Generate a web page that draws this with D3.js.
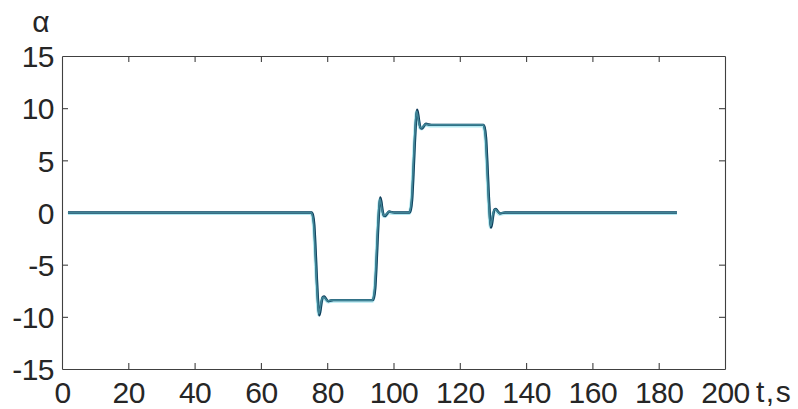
<!DOCTYPE html>
<html>
<head>
<meta charset="utf-8">
<script src="https://cdn.jsdelivr.net/npm/d3@7"></script>
<style>
  html, body { margin: 0; padding: 0; background: #fff; }
  svg { display: block; }
  .tick text { font-family: "Liberation Sans", Arial, sans-serif; font-size: 30px; fill: #262626; letter-spacing: -0.5px; }
  .ax path, .ax line { stroke: #404040; stroke-width: 1.1; }
</style>
</head>
<body>
<svg id="chart" width="798" height="409"></svg>
<script>
// Angle of attack response, two simulated traces
const tealT = [1.8, 75.2, 75.6, 76.0, 76.4, 76.8, 77.2, 77.5, 77.8, 78.2, 78.6, 79.0, 79.5, 80.2, 81.0, 81.8,
  93.6, 94.0, 94.4, 94.8, 95.2, 95.6, 95.9, 96.2, 96.6, 97.0, 97.4, 97.9, 98.6, 99.4, 100.2,
  104.7, 105.1, 105.5, 105.9, 106.3, 106.7, 107.0, 107.3, 107.7, 108.1, 108.5, 109.0, 109.7, 110.5, 111.3,
  127.0, 127.4, 127.8, 128.2, 128.6, 129.0, 129.3, 129.6, 130.0, 130.4, 130.8, 131.3, 132.0, 132.8, 133.6, 185.5];
const tealV = [0, 0, -0.34, -1.51, -4.03, -6.72, -8.90, -9.72, -9.32, -8.57, -8.15, -8.11, -8.27, -8.48, -8.43, -8.4,
  -8.4, -8.06, -6.89, -4.37, -1.68, 0.50, 1.32, 0.92, 0.17, -0.25, -0.29, -0.13, 0.08, 0.03, 0,
  0, 0.34, 1.51, 4.03, 6.72, 8.90, 9.72, 9.32, 8.57, 8.15, 8.11, 8.27, 8.48, 8.43, 8.4,
  8.4, 8.06, 6.89, 4.37, 1.68, -0.50, -1.32, -0.92, -0.17, 0.25, 0.29, 0.13, -0.08, -0.03, 0, 0];

const navyT = [1.8, 75.3, 75.7, 76.1, 76.5, 76.9, 77.3, 77.6, 77.9, 78.3, 78.7, 79.1, 79.6, 80.3, 81.1, 81.9,
  93.7, 94.1, 94.5, 94.9, 95.3, 95.7, 96.0, 96.3, 96.7, 97.1, 97.5, 98.0, 98.7, 99.5, 100.3,
  104.8, 105.2, 105.6, 106.0, 106.4, 106.8, 107.1, 107.4, 107.8, 108.2, 108.6, 109.1, 109.8, 110.6, 111.4,
  127.1, 127.5, 127.9, 128.3, 128.7, 129.1, 129.4, 129.7, 130.1, 130.5, 130.9, 131.4, 132.1, 132.9, 133.7, 185.5];
const navyV = [0, 0, -0.25, -1.20, -3.60, -6.50, -8.80, -9.85, -9.50, -8.60, -8.10, -8.05, -8.25, -8.50, -8.43, -8.4,
  -8.4, -8.15, -7.20, -4.80, -1.90, 0.40, 1.45, 1.10, 0.20, -0.30, -0.35, -0.15, 0.10, 0.03, 0,
  0, 0.25, 1.20, 3.60, 6.50, 8.80, 9.85, 9.50, 8.60, 8.10, 8.05, 8.25, 8.50, 8.43, 8.4,
  8.4, 8.15, 7.20, 4.80, 1.90, -0.40, -1.45, -1.10, -0.20, 0.30, 0.35, 0.15, -0.10, -0.03, 0, 0];

const xTicks = [0, 20, 40, 60, 80, 100, 120, 140, 160, 180, 200];
const yTicks = [-15, -10, -5, 0, 5, 10, 15];
const xTitle = "t,s";
const yTitle = "α";

const svg = d3.select("#chart");
const m = { left: 62, right: 73, top: 56, bottom: 40 };
const W = 798, H = 409;

const x = d3.scaleLinear().domain([0, 200]).range([m.left, W - m.right]);
const y = d3.scaleLinear().domain([-15, 15]).range([H - m.bottom, m.top]);

// data lines
const line = d3.line().x(d => x(d[0])).y(d => y(d[1])).curve(d3.curveMonotoneX);
const navy = navyT.map((t, i) => [t, navyV[i]]);
const teal = tealT.map((t, i) => [t, tealV[i]]);

svg.append("path").datum(teal).attr("d", line)
  .attr("fill", "none").attr("stroke", "#9fe3ee").attr("stroke-width", 3.6)
  .attr("transform", "translate(0,0.8)").attr("opacity", 0.8);
svg.append("path").datum(navy).attr("d", line)
  .attr("fill", "none").attr("stroke", "#0f3a58").attr("stroke-width", 2.4);
svg.append("path").datum(teal).attr("d", line)
  .attr("fill", "none").attr("stroke", "#3f8496").attr("stroke-width", 1.7);

// axes (ticks point inward on all four sides)
const fmt = d => String(d);
svg.append("g").attr("class", "ax").attr("transform", `translate(0,${y(-15)})`)
  .call(d3.axisBottom(x).tickValues(xTicks).tickFormat(fmt).tickSize(-6).tickSizeOuter(0).tickPadding(13));
svg.append("g").attr("class", "ax").attr("transform", `translate(0,${y(15)})`)
  .call(d3.axisTop(x).tickValues(xTicks).tickFormat("").tickSize(-6).tickSizeOuter(0));
const leftAxis = svg.append("g").attr("class", "ax").attr("transform", `translate(${x(0)},0)`)
  .call(d3.axisLeft(y).tickValues(yTicks).tickFormat(fmt).tickSize(-6).tickSizeOuter(0).tickPadding(8));
svg.append("g").attr("class", "ax").attr("transform", `translate(${x(200)},0)`)
  .call(d3.axisRight(y).tickValues(yTicks).tickFormat("").tickSize(-6).tickSizeOuter(0));

// no tick marks on the frame corners
svg.selectAll(".ax .tick").filter(d => d === 0 || d === 200 || d === 15 || d === -15).select("line").remove();
leftAxis.selectAll(".tick text").attr("dy", "0.36em");

// axis titles
svg.append("text").attr("x", 756).attr("y", 402)
  .attr("font-family", "Liberation Sans, Arial, sans-serif").attr("font-size", 30).attr("fill", "#262626")
  .attr("letter-spacing", 1.5)
  .text(xTitle);
svg.append("text").attr("x", 41).attr("y", 32).attr("text-anchor", "middle")
  .attr("font-family", "Liberation Sans, Arial, sans-serif").attr("font-size", 30).attr("fill", "#262626")
  .text(yTitle);
</script>
</body>
</html>
